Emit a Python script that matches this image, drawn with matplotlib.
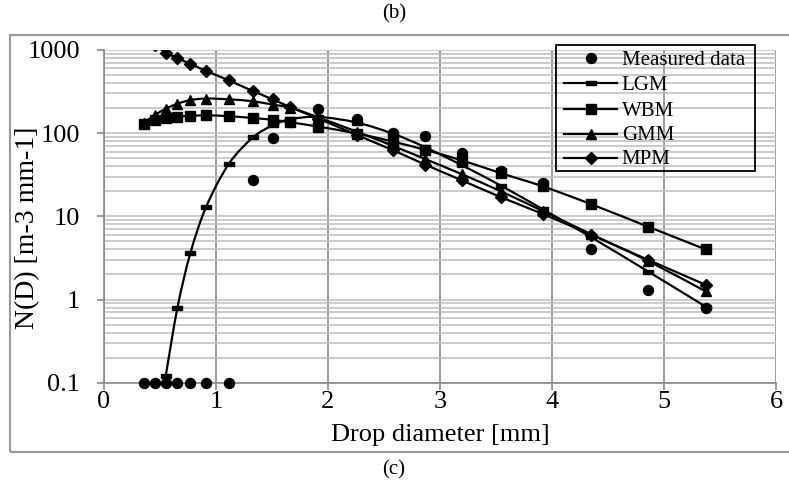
import matplotlib
matplotlib.use("Agg")
import matplotlib.pyplot as plt
import numpy as np
from matplotlib.lines import Line2D
from matplotlib.patches import PathPatch, Rectangle
from matplotlib.path import Path
from matplotlib.ticker import FixedFormatter, FixedLocator, NullFormatter

plt.rcParams["font.family"] = ["Liberation Serif", "DejaVu Serif"]

# drop-size classes (mm)
diameter = [0.359, 0.455, 0.551, 0.656, 0.771, 0.913, 1.116, 1.331, 1.506, 1.665,
            1.912, 2.259, 2.584, 2.866, 3.198, 3.544, 3.916, 4.350, 4.859, 5.373]

measured = [0.1, 0.1, 0.1, 0.1, 0.1, 0.1, 0.1, 27, 88, 135,
            195, 148, 100, 92, 58, 35, 25, 4.1, 1.3, 0.8]
# LGM starts at the third class
lgm = [0.12, 0.80, 3.6, 13.1, 43, 89, 124, 147,
       157, 134, 98, 68, 41, 23.4, 12.2, 5.6, 2.17, 0.82]
wbm = [128, 144, 152, 158, 161, 164, 160, 152, 145, 135,
       120, 99, 79, 63, 47, 33, 23, 14, 7.5, 4.0]
gmm = [134, 165, 197, 226, 250, 261, 255, 242, 220, 203,
       155, 104, 70, 49, 32, 20, 11.6, 6.1, 2.9, 1.25]
mpm = [1250, 1150, 930, 800, 680, 560, 430, 320, 255, 205,
       150, 95, 62, 42, 27, 17, 10.7, 6.0, 3.0, 1.5]

labels = ["Measured data", "LGM", "WBM", "GMM", "MPM"]
y_ticks = [0.1, 1, 10, 100, 1000]
y_tick_labels = ["0.1", "1", "10", "100", "1000"]
x_ticks = [0, 1, 2, 3, 4, 5, 6]

W, H = 789, 488
DASH = [(-1, -0.4), (1, -0.4), (1, 0.4), (-1, 0.4), (-1, -0.4)]
MARKERS = [
    dict(marker="o", ms=7.2),
    dict(marker=DASH, ms=7.5),
    dict(marker="s", ms=7.8),
    dict(marker="^", ms=7.0),
    dict(marker="D", ms=6.0),
]


def fx(px):
    return px / W


def fy(py):
    return 1 - py / H


def smooth_line(ax, xs, ys, lw=1.6):
    """Excel-style smoothed line: Catmull-Rom through the points in (x, log y)."""
    x = np.asarray(xs, float)
    ly = np.log10(np.asarray(ys, float))
    pts = np.column_stack([x, ly])
    verts = [pts[0]]
    codes = [Path.MOVETO]
    n = len(pts)
    for i in range(n - 1):
        p0 = pts[max(i - 1, 0)]
        p1 = pts[i]
        p2 = pts[i + 1]
        p3 = pts[min(i + 2, n - 1)]
        verts += [p1 + (p2 - p0) / 6, p2 - (p3 - p1) / 6, p2]
        codes += [Path.CURVE4] * 3
    verts = np.array(verts)
    verts[:, 1] = 10 ** verts[:, 1]
    patch = PathPatch(Path(verts, codes), facecolor="none", edgecolor="black",
                      lw=lw, transform=ax.transData, zorder=3)
    ax.add_patch(patch)


fig = plt.figure(figsize=(W / 100, H / 100), dpi=100)
ax = fig.add_axes([fx(104), fy(382.7), 672 / W, 332.7 / H])
ax.set_yscale("log")

ax.plot(diameter, measured, ls="none", color="black", zorder=4, clip_on=False,
        **MARKERS[0])
series = [(diameter[2:], lgm), (diameter, wbm), (diameter, gmm), (diameter, mpm)]
for (xs, ys), style in zip(series, MARKERS[1:]):
    smooth_line(ax, xs, ys)
    ax.plot(xs, ys, ls="none", color="black", zorder=4, **style)

ax.set_xlim(0, 6)
ax.set_ylim(0.1, 1000)

ax.xaxis.set_major_locator(FixedLocator(x_ticks))
ax.yaxis.set_major_locator(FixedLocator(y_ticks))
ax.yaxis.set_major_formatter(FixedFormatter(y_tick_labels))
minor = [m * 10.0 ** e for e in range(-1, 3) for m in range(2, 10)]
ax.yaxis.set_minor_locator(FixedLocator(minor))
ax.yaxis.set_minor_formatter(NullFormatter())

grid_dark = "#8a8a8a"
grid_light = "#bdbdbd"
ax.grid(axis="x", which="major", color=grid_dark, lw=1.2)
ax.grid(axis="y", which="both", color=grid_light, lw=1.1)
ax.set_axisbelow(True)
for side in ("top", "right"):
    ax.spines[side].set_visible(False)
for side in ("left", "bottom"):
    ax.spines[side].set_color(grid_dark)
    ax.spines[side].set_linewidth(1.2)
ax.tick_params(axis="both", which="major", direction="out", length=5,
               width=1.2, color=grid_dark, labelsize=19)
ax.tick_params(axis="y", which="major", pad=12)
ax.tick_params(axis="x", which="major", pad=1)
ax.tick_params(axis="y", which="minor", length=0)

# legend drawn by hand so the box matches the original (transparent fill)
fig.add_artist(Rectangle((fx(555.7), fy(170.7)), (755 - 555.7) / W, (170.7 - 45) / H,
                         transform=fig.transFigure, facecolor="none",
                         edgecolor="black", lw=1.3, zorder=5))
row_y = [58.3, 83.3, 109, 134, 158]
for i, (label, style) in enumerate(zip(labels, MARKERS)):
    y = fy(row_y[i])
    ls = "none" if i == 0 else "-"
    fig.add_artist(Line2D([fx(564), fx(590.5), fx(617)], [y, y, y], ls=ls, lw=1.6,
                          color="black", markevery=[1], zorder=6,
                          transform=fig.transFigure, **style))
    fig.text(fx(621.7), fy(row_y[i] + 2), label, fontsize=15, ha="left",
             va="center", zorder=6)

fig.text(fx(28), fy(228), "N(D) [m-3 mm-1]", rotation=90, fontsize=20,
         ha="center", va="center")
fig.text(fx(440), fy(435), "Drop diameter [mm]", fontsize=19,
         ha="center", va="center")
fig.text(fx(394), fy(14), "(b)", fontsize=15, ha="center", va="center")
fig.text(fx(394), fy(470), "(c)", fontsize=15, ha="center", va="center")

fig.add_artist(Rectangle((fx(10), fy(452)), 900 / W, (452 - 35) / H,
                         transform=fig.transFigure, facecolor="none",
                         edgecolor="#9a9a9a", lw=1.5))

fig.savefig("out.png", dpi=100)
